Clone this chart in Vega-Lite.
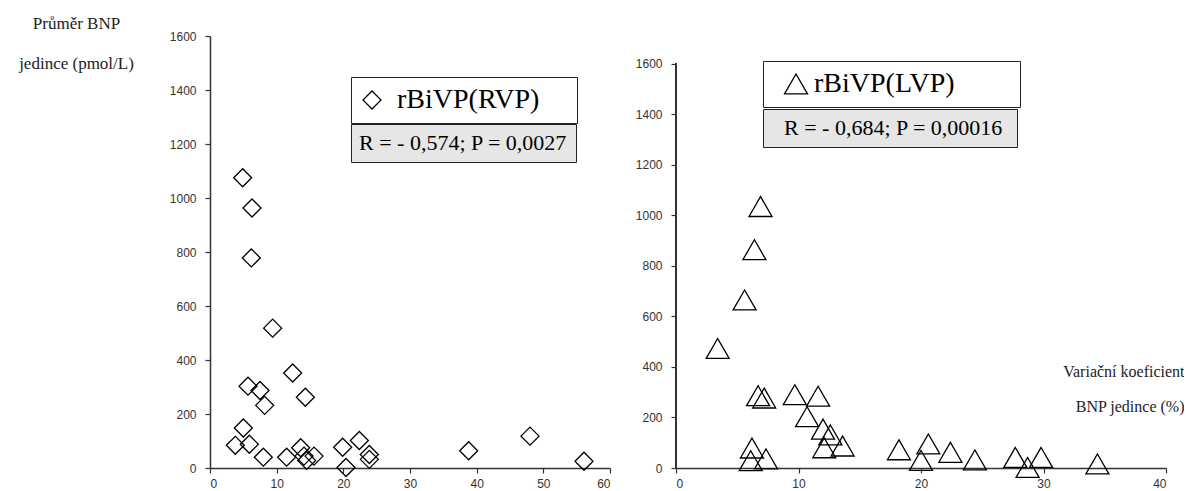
{
  "$schema": "https://vega.github.io/schema/vega-lite/v6.json",
  "background": "white",
  "padding": {"left": 18, "top": 14, "right": 0, "bottom": 0},
  "datasets": {
    "rvp": [
      {"cv": 4.9, "bnp": 1075}, {"cv": 6.3, "bnp": 963}, {"cv": 6.2, "bnp": 778},
      {"cv": 9.4, "bnp": 518}, {"cv": 12.4, "bnp": 352}, {"cv": 5.7, "bnp": 303},
      {"cv": 7.5, "bnp": 287}, {"cv": 8.2, "bnp": 232}, {"cv": 14.3, "bnp": 262},
      {"cv": 5.0, "bnp": 148}, {"cv": 3.8, "bnp": 84}, {"cv": 5.9, "bnp": 88},
      {"cv": 8.0, "bnp": 40}, {"cv": 11.5, "bnp": 40}, {"cv": 13.6, "bnp": 75},
      {"cv": 14.1, "bnp": 44}, {"cv": 14.5, "bnp": 28}, {"cv": 15.6, "bnp": 44},
      {"cv": 19.9, "bnp": 77}, {"cv": 20.4, "bnp": 2}, {"cv": 22.4, "bnp": 102},
      {"cv": 23.9, "bnp": 50}, {"cv": 23.9, "bnp": 32}, {"cv": 38.8, "bnp": 64},
      {"cv": 48.0, "bnp": 118}, {"cv": 56.1, "bnp": 25}
    ],
    "lvp": [
      {"cv": 6.9, "bnp": 1035}, {"cv": 6.4, "bnp": 864}, {"cv": 5.6, "bnp": 665},
      {"cv": 3.4, "bnp": 473}, {"cv": 6.7, "bnp": 286}, {"cv": 7.2, "bnp": 277},
      {"cv": 9.7, "bnp": 290}, {"cv": 11.6, "bnp": 284}, {"cv": 10.7, "bnp": 203},
      {"cv": 12.0, "bnp": 154}, {"cv": 12.6, "bnp": 131}, {"cv": 12.1, "bnp": 80},
      {"cv": 13.6, "bnp": 87}, {"cv": 6.2, "bnp": 79}, {"cv": 6.1, "bnp": 29},
      {"cv": 7.35, "bnp": 36}, {"cv": 18.2, "bnp": 72}, {"cv": 20.0, "bnp": 30},
      {"cv": 20.6, "bnp": 95}, {"cv": 22.4, "bnp": 62}, {"cv": 24.4, "bnp": 32},
      {"cv": 27.7, "bnp": 42}, {"cv": 28.7, "bnp": 2}, {"cv": 29.8, "bnp": 42},
      {"cv": 34.4, "bnp": 16}
    ]
  },
  "config": {
    "view": {"stroke": null},
    "axis": {
      "grid": false,
      "domainColor": "#333",
      "domainWidth": 1.5,
      "tickColor": "#333",
      "tickWidth": 1.2,
      "tickSize": 5,
      "labelFont": "Liberation Sans",
      "labelFontSize": 12,
      "labelColor": "#333",
      "labelPadding": 9,
      "format": "d"
    },
    "axisX": {"labelPadding": 5},
    "legend": {
      "labelFont": "Liberation Serif",
      "labelColor": "black",
      "labelLimit": 600,
      "strokeColor": "#222",
      "title": null
    }
  },
  "spacing": 66,
  "bounds": "flush",
  "resolve": {
    "scale": {"color": "independent", "shape": "independent"},
    "legend": {"color": "independent", "shape": "independent"}
  },
  "hconcat": [
    {
      "width": 400,
      "height": 432,
      "data": {"name": "rvp"},
      "mark": {"type": "point", "filled": false, "size": 324, "strokeWidth": 1.3, "opacity": 1},
      "encoding": {
        "x": {
          "field": "cv", "type": "quantitative",
          "scale": {"domain": [0, 60], "nice": false},
          "axis": {"values": [0, 10, 20, 30, 40, 50, 60], "title": null}
        },
        "y": {
          "field": "bnp", "type": "quantitative",
          "scale": {"domain": [0, 1600], "nice": false},
          "axis": {
            "values": [0, 200, 400, 600, 800, 1000, 1200, 1400, 1600],
            "title": ["Průměr BNP", "jedince (pmol/L)"],
            "titleAngle": 0,
            "titleAlign": "center",
            "titleBaseline": "middle",
            "titleX": -134,
            "titleY": -13,
            "titleFont": "Liberation Serif",
            "titleFontSize": 17,
            "titleFontWeight": "normal",
            "titleLineHeight": 40,
            "titleColor": "#222"
          }
        },
        "shape": {
          "datum": "rBiVP(RVP)", "type": "nominal",
          "scale": {"range": ["diamond"]},
          "legend": {
            "orient": "none", "legendX": 141, "legendY": 41,
            "fillColor": "white", "padding": 9,
            "labelFontSize": 28, "symbolSize": 324,
            "symbolStrokeColor": "black", "symbolFillColor": "white", "symbolStrokeWidth": 1.3,
            "symbolOffset": -2, "labelOffset": 11,
            "labelExpr": "datum.label + '\u00a0\u00a0\u00a0\u00a0\u200b'"
          }
        },
        "color": {
          "datum": "R = - 0,574; P = 0,0027", "type": "nominal",
          "scale": {"range": ["black"]},
          "legend": {
            "orient": "none", "legendX": 141, "legendY": 88,
            "fillColor": "#e6e6e6", "padding": 8,
            "labelFontSize": 22, "symbolSize": 1, "symbolOpacity": 0,
            "symbolOffset": 0, "labelOffset": -22
          }
        }
      }
    },
    {
      "width": 490,
      "height": 432,
      "data": {"name": "lvp"},
      "layer": [
        {
          "mark": {"type": "rule", "color": "#333", "strokeWidth": 1.5},
          "encoding": {
            "x": {"datum": 0, "type": "quantitative"},
            "y": {"datum": 0, "type": "quantitative"},
            "y2": {"datum": 1600}
          }
        },
        {
          "mark": {"type": "point", "filled": false, "size": 529, "strokeWidth": 1.3, "opacity": 1},
          "encoding": {
            "x": {"field": "cv", "type": "quantitative"},
            "y": {"field": "bnp", "type": "quantitative"},
            "shape": {
              "datum": "rBiVP(LVP)", "type": "nominal",
              "scale": {"range": ["triangle-up"]},
              "legend": {
                "orient": "none", "legendX": 87, "legendY": 25,
                "fillColor": "white", "padding": 9,
                "labelFontSize": 28, "symbolSize": 529,
                "symbolStrokeColor": "black", "symbolFillColor": "white", "symbolStrokeWidth": 1.3,
                "symbolOffset": 10, "labelOffset": 4,
                "labelExpr": "datum.label + '\u00a0\u00a0\u00a0\u00a0\u00a0\u00a0\u00a0\u00a0\u200b'"
              }
            },
            "color": {
              "datum": "R = - 0,684; P = 0,00016", "type": "nominal",
              "scale": {"range": ["black"]},
              "legend": {
                "orient": "none", "legendX": 87, "legendY": 73,
                "fillColor": "#e6e6e6", "padding": 8,
                "labelFontSize": 22, "symbolSize": 1, "symbolOpacity": 0,
                "symbolOffset": 0, "labelOffset": -9,
                "labelExpr": "datum.label + '\u00a0\u200b'"
              }
            }
          }
        }
      ],
      "encoding": {
        "x": {
          "type": "quantitative",
          "scale": {"domain": [0, 40], "nice": false},
          "axis": {
            "values": [0, 10, 20, 30, 40],
            "title": ["Variační koeficient", "BNP jedince (%)"],
            "titleAlign": "right",
            "titleBaseline": "middle",
            "titleX": 508,
            "titleY": -97,
            "titleFont": "Liberation Serif",
            "titleFontSize": 16,
            "titleFontWeight": "normal",
            "titleLineHeight": 35,
            "titleColor": "#222"
          }
        },
        "y": {
          "type": "quantitative",
          "scale": {"domain": [0, 1710], "nice": false},
          "axis": {
            "values": [0, 200, 400, 600, 800, 1000, 1200, 1400, 1600],
            "title": null,
            "domain": false
          }
        }
      }
    }
  ]
}
